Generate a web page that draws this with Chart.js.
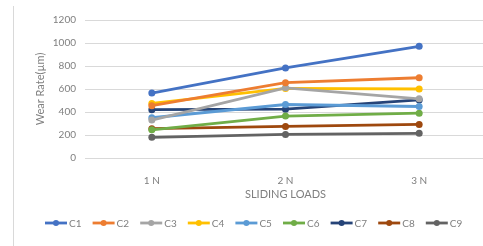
<!DOCTYPE html>
<html>
<head>
<meta charset="utf-8">
<script src="https://cdn.jsdelivr.net/npm/chart.js"></script>
<style>
  html, body { margin: 0; padding: 0; background: #fff; overflow: hidden; }
  #wrap { position: relative; width: 490px; height: 246px; }
  #edge { position: absolute; left: 13px; top: 6px; width: 1px; height: 240px; background: #d9d9d9; }
</style>
</head>
<body>
<div id="wrap">
  <div id="edge"></div>
  <canvas id="chart" width="490" height="246"></canvas>
</div>
<script>
// Wear rate vs sliding load
const loads = ['1 N', '2 N', '3 N'];
const seriesNames = ['C1', 'C2', 'C3', 'C4', 'C5', 'C6', 'C7', 'C8', 'C9'];
const c1 = [565, 783, 971];
const c2 = [455, 655, 698];
const c3 = [330, 610, 515];
const c4 = [475, 605, 600];
const c5 = [350, 465, 448];
const c6 = [245, 365, 390];
const c7 = [420, 425, 505];
const c8 = [255, 275, 292];
const c9 = [180, 205, 215];
const yTicks = [0, 200, 400, 600, 800, 1000, 1200];

const seriesValues = [c1, c2, c3, c4, c5, c6, c7, c8, c9];
const colors = ['#4472C4', '#ED7D31', '#A5A5A5', '#FFC000', '#5B9BD5', '#70AD47', '#264478', '#9E480E', '#636363'];
const FONT = 'Lato, "Liberation Sans", sans-serif';
const TEXT = '#7f7f7f';

// excel-like legend: short line with a dot in the middle
const lineLegend = {
  id: 'lineLegend',
  afterDraw(chart) {
    const ctx = chart.ctx;
    const y = 223;
    const step = 47.6;
    ctx.save();
    ctx.font = '10px ' + FONT;
    ctx.textBaseline = 'middle';
    ctx.textAlign = 'left';
    chart.data.datasets.forEach((ds, i) => {
      const x = 45 + i * step;
      ctx.strokeStyle = ds.borderColor;
      ctx.lineWidth = 2.8;
      ctx.beginPath();
      ctx.moveTo(x, y);
      ctx.lineTo(x + 22, y);
      ctx.stroke();
      ctx.fillStyle = ds.borderColor;
      ctx.beginPath();
      ctx.arc(x + 11, y, 3, 0, Math.PI * 2);
      ctx.fill();
      ctx.fillStyle = TEXT;
      ctx.fillText(ds.label, x + 24, y + 0.5);
    });
    ctx.restore();
  }
};

const datasets = seriesNames.map((name, i) => ({
  label: name,
  data: seriesValues[i],
  borderColor: colors[i],
  backgroundColor: colors[i],
  borderWidth: 2.8,
  pointRadius: 3.5,
  pointBorderWidth: 0,
  tension: 0
}));

new Chart(document.getElementById('chart'), {
  type: 'line',
  data: { labels: loads, datasets: datasets },
  options: {
    responsive: false,
    animation: false,
    layout: { padding: { left: 34, top: 20, right: 2, bottom: 45 } },
    plugins: { legend: { display: false }, tooltip: { enabled: false } },
    scales: {
      x: {
        offset: true,
        grid: { display: false },
        border: { display: false },
        ticks: { color: TEXT, font: { family: FONT, size: 10 }, padding: 9 },
        title: { display: true, text: 'SLIDING LOADS', color: TEXT, font: { family: FONT, size: 11 }, padding: { top: 4, bottom: 0 } },
        afterFit(scale) { scale.height = 43; }
      },
      y: {
        min: 0,
        max: 1200,
        afterBuildTicks(scale) { scale.ticks = yTicks.map(v => ({ value: v })); },
        grid: { color: '#d9d9d9', lineWidth: 1, drawTicks: false },
        border: { display: false },
        ticks: { color: TEXT, font: { family: FONT, size: 10 }, padding: 9, callback: v => String(v) },
        title: { display: true, text: 'Wear Rate(µm)', color: TEXT, font: { family: FONT, size: 11 }, padding: 0 },
        afterFit(scale) { scale.width = 51; }
      }
    }
  },
  plugins: [lineLegend]
});
</script>
</body>
</html>
